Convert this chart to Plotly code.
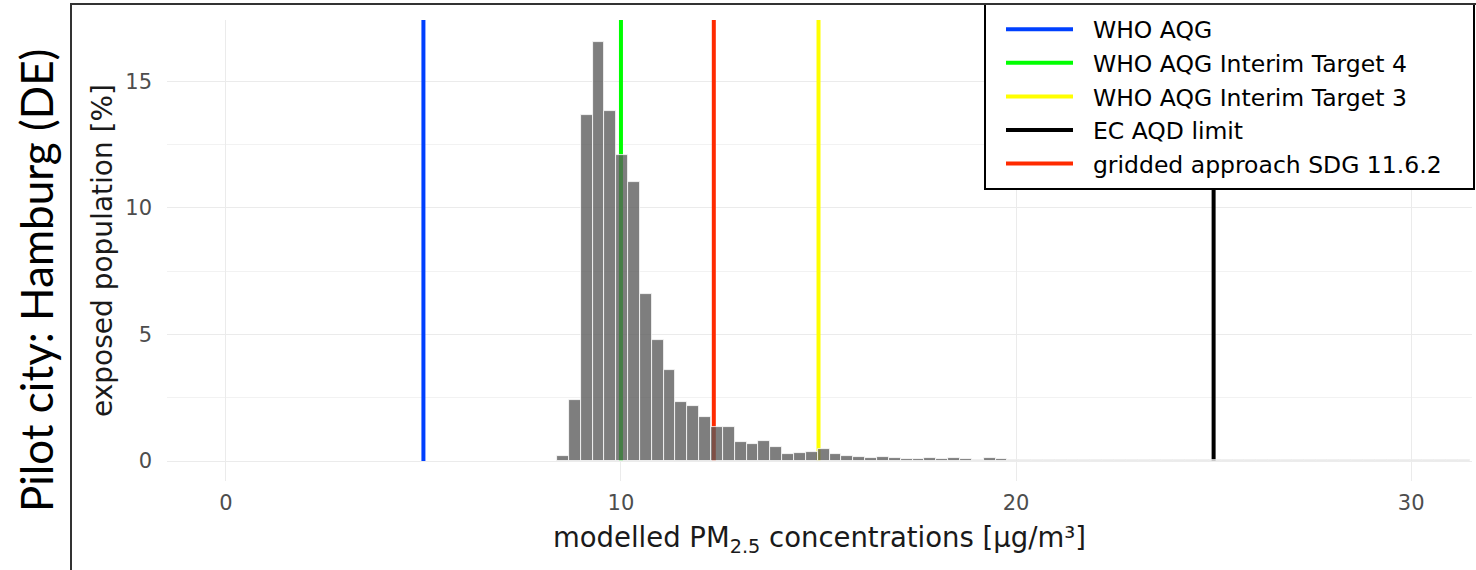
import plotly.graph_objects as go

# ---- data ----
bin_centers = [8.53, 8.83, 9.13, 9.43, 9.73, 10.03, 10.33, 10.63, 10.93, 11.23,
               11.53, 11.83, 12.13, 12.43, 12.73, 13.03, 13.33, 13.63, 13.93, 14.23,
               14.53, 14.83, 15.13, 15.43, 15.73, 16.03, 16.33, 16.63, 16.93, 17.23,
               17.53, 17.83, 18.13, 18.43, 18.73, 19.03, 19.33, 19.63, 19.93, 20.23,
               20.53, 20.83, 21.13, 21.43, 21.73, 22.03, 22.33, 22.63, 22.93, 23.23,
               23.53, 23.83, 24.13, 24.43, 24.73, 25.03, 25.33, 25.63, 25.93, 26.23,
               26.53, 26.83, 27.13, 27.43, 27.73, 28.03, 28.33, 28.63, 28.93, 29.23,
               29.53, 29.83, 30.13, 30.43, 30.73, 31.03, 31.33]
exposed_pct = [0.18, 2.40, 13.69, 16.55, 13.85, 12.11, 11.04, 6.61, 4.77, 3.61,
               2.33, 2.17, 1.75, 1.33, 1.33, 0.76, 0.69, 0.79, 0.55, 0.26,
               0.33, 0.36, 0.46, 0.29, 0.21, 0.14, 0.105, 0.16, 0.10, 0.09,
               0.09, 0.10, 0.09, 0.10, 0.09, 0.05, 0.10, 0.06, 0.05, 0.04,
               0.04, 0.03, 0.04, 0.04, 0.03, 0.04, 0.03, 0.04, 0.03, 0.03,
               0.04, 0.03, 0.03, 0.03, 0.03, 0.03, 0.03, 0.03, 0.03, 0.03,
               0.03, 0.03, 0.03, 0.03, 0.03, 0.03, 0.03, 0.03, 0.04, 0.04,
               0.04, 0.04, 0.04, 0.04, 0.03, 0.03, 0.03]
bin_width = 0.3

guide_names = ["WHO AQG", "WHO AQG Interim Target 4", "WHO AQG Interim Target 3",
               "EC AQD limit", "gridded approach SDG 11.6.2"]
guide_values = [5, 10, 15, 25, 12.35]
guide_colors = ["#0040FF", "#00FF00", "#FFFF00", "#000000", "#FF2A00"]

x_ticks = [0, 10, 20, 30]
y_ticks = [0, 5, 10, 15]

x_range = [-1.49, 31.54]
y_range = [-0.79, 17.43]

FONT = "DejaVu Sans, Liberation Sans, Arial, sans-serif"

# plot-area geometry in page pixels (for paper-coordinate helpers)
PL, PR, PT, PB = 167, 1472, 20, 481
def px(x):
    return (x - PL) / (PR - PL)
def py(y):
    return (PB - y) / (PB - PT)

fig = go.Figure()

fig.add_trace(go.Bar(
    x=bin_centers, y=exposed_pct, width=bin_width,
    marker=dict(color="rgba(90,90,90,0.78)", line=dict(color="white", width=0.8)),
    showlegend=False, hoverinfo="x+y",
))

for name, val, col in zip(guide_names, guide_values, guide_colors):
    fig.add_shape(type="line", xref="x", yref="y", x0=val, x1=val,
                  y0=0, y1=y_range[1], line=dict(color=col, width=4), layer="between")
    fig.add_trace(go.Scatter(x=[None], y=[None], mode="lines", name="\u00a0\u00a0" + name,
                             line=dict(color=col, width=4)))

# legend box
fig.add_shape(type="rect", xref="paper", yref="paper",
              x0=px(985), x1=px(1474), y0=py(189), y1=py(4),
              line=dict(color="black", width=2), fillcolor="white", layer="above")

# outer frame of the figure panel
fig.add_shape(type="rect", xref="paper", yref="paper",
              x0=px(71), x1=px(1490), y0=py(600), y1=py(4),
              line=dict(color="#333333", width=2), fillcolor="rgba(0,0,0,0)", layer="above")

fig.add_annotation(text="Pilot city: Hamburg (DE)", xref="paper", yref="paper",
                   x=px(36), y=py(281), textangle=-90,
                   showarrow=False, xanchor="center", yanchor="middle",
                   font=dict(family="Lato, Open Sans, sans-serif", size=44, color="black"))

fig.update_layout(
    width=1476, height=570,
    margin=dict(l=PL, r=1476 - PR, t=PT, b=570 - PB, autoexpand=False),
    paper_bgcolor="white", plot_bgcolor="white",
    bargap=0,
    font=dict(family=FONT, color="black"),
    legend=dict(x=px(1001), xanchor="left", y=py(7.5), yanchor="top",
                bgcolor="rgba(0,0,0,0)", borderwidth=0,
                font=dict(family=FONT, size=23.5, color="black"),
                itemwidth=67, tracegroupgap=0),
)

fig.update_xaxes(range=x_range, tickvals=x_ticks, ticktext=[str(t) for t in x_ticks],
                 showgrid=True, gridcolor="#EBEBEB", gridwidth=1.2, zeroline=False,
                 showline=False, ticks="", ticklabelstandoff=7,
                 tickfont=dict(family=FONT, size=21, color="#4D4D4D"),
                 title=dict(text="modelled PM<sub>2.5</sub> concentrations [µg/m³]",
                            font=dict(family=FONT, size=27.5, color="#1A1A1A"), standoff=13))
fig.update_yaxes(range=y_range, tickvals=y_ticks, ticktext=[str(t) for t in y_ticks],
                 showgrid=True, gridcolor="#EBEBEB", gridwidth=1.2, zeroline=False,
                 showline=False, ticks="", ticklabelstandoff=14,
                 minor=dict(dtick=2.5, showgrid=True, gridcolor="#F2F2F2", gridwidth=1),
                 tickfont=dict(family=FONT, size=21, color="#4D4D4D"),
                 title=dict(text="exposed population [%]",
                            font=dict(family=FONT, size=28, color="#1A1A1A"), standoff=4))

fig.write_html("out.html", config={"displayModeBar": False},
               post_script="document.body.style.margin='0px';")
